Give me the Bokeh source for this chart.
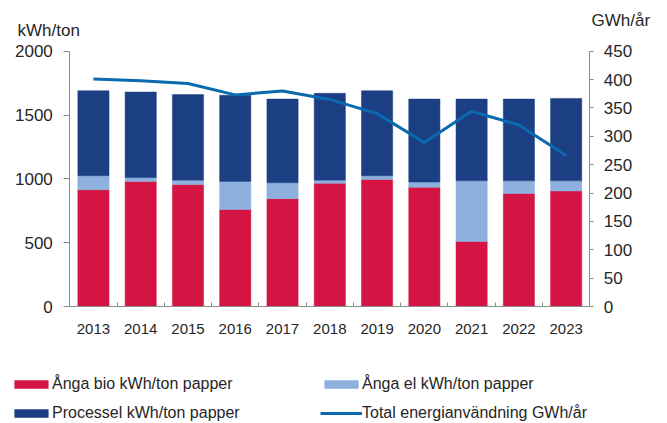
from bokeh.plotting import figure
from bokeh.models import (ColumnDataSource, Range1d, LinearAxis, FixedTicker,
                          Legend, LegendItem, Label)
from bokeh.embed import file_html
from bokeh.resources import INLINE

# ---- data ----
years = ["2013", "2014", "2015", "2016", "2017", "2018", "2019", "2020", "2021", "2022", "2023"]
anga_bio = [915, 980, 955, 760, 845, 965, 995, 935, 510, 885, 905]
anga_el = [110, 30, 35, 220, 125, 25, 30, 40, 475, 100, 80]
processel = [665, 670, 670, 675, 655, 680, 665, 650, 640, 640, 645]
total_gwh = [401, 398, 393, 373, 380, 365, 340, 289, 344, 320, 266]
left_ticks = [0, 500, 1000, 1500, 2000]
right_ticks = [0, 50, 100, 150, 200, 250, 300, 350, 400, 450]
series_names = ["Ånga bio kWh/ton papper", "Ånga el kWh/ton papper",
                "Processel kWh/ton papper", "Total energianvändning GWh/år"]
left_title = "kWh/ton"
right_title = "GWh/år"

# ---- style ----
RED = "#D41443"
LIGHT = "#8EB0DE"
DARK = "#1B3F82"
LINE = "#0A6AB0"
AXIS = "#8A8A8A"
TXT = "#262626"
FONT = "Liberation Sans"

# ---- layout geometry (pixels on the canvas) ----
W, H = 667, 423
PLOT_L, PLOT_R, PLOT_T, PLOT_B = 69.3, 589.3, 50.7, 306.0
ncat = len(years)
left_max = left_ticks[-1]
right_max = right_ticks[-1]
px_cat = (PLOT_R - PLOT_L) / ncat
px_unit = (PLOT_B - PLOT_T) / left_max
x_start = -0.5 - PLOT_L / px_cat
x_end = ncat - 0.5 + (W - PLOT_R) / px_cat
y_start = -(H - PLOT_B) / px_unit
y_end = left_max + PLOT_T / px_unit
k = right_max / left_max


def dx(px):
    return x_start + px / px_cat


def dy(py):
    return y_start + (H - py) / px_unit


pos = list(range(ncat))
src = ColumnDataSource(dict(pos=pos, bio=anga_bio, el=anga_el,
                            processel=processel, total=total_gwh))

p = figure(width=W, height=H, x_range=Range1d(x_start, x_end),
           y_range=Range1d(y_start, y_end), output_backend="svg",
           toolbar_location=None, x_axis_location=None, y_axis_location=None,
           min_border_left=0, min_border_right=0, min_border_top=0,
           min_border_bottom=0)
p.extra_y_ranges = {"gwh": Range1d(y_start * k, y_end * k)}
p.outline_line_color = None
p.xgrid.visible = False
p.ygrid.visible = False
p.background_fill_color = "white"
p.border_fill_color = "white"

bars = p.vbar_stack(["bio", "el", "processel"], x="pos", width=0.66,
                    fill_color=[RED, LIGHT, DARK], line_color=[RED, LIGHT, DARK],
                    line_width=0.5, source=src)
line = p.line(x="pos", y="total", source=src, y_range_name="gwh",
              line_width=3, line_color=LINE)

# left axis
ly = LinearAxis(ticker=FixedTicker(ticks=left_ticks, minor_ticks=[]),
                fixed_location=-0.5, bounds=(0, left_max))
ly.axis_line_color = AXIS
ly.major_tick_line_color = AXIS
ly.major_tick_in = 0
ly.major_tick_out = 6
ly.minor_tick_line_color = None
ly.major_label_standoff = 11
ly.major_label_text_font = FONT
ly.major_label_text_font_size = "17px"
ly.major_label_text_color = TXT
p.add_layout(ly, "left")

# right axis
ry = LinearAxis(y_range_name="gwh", ticker=FixedTicker(ticks=right_ticks, minor_ticks=[]),
                fixed_location=ncat - 0.5, bounds=(0, right_max))
ry.axis_line_color = AXIS
ry.major_tick_line_color = AXIS
ry.major_tick_in = 0
ry.major_tick_out = 4
ry.minor_tick_line_color = None
ry.major_label_standoff = 10
ry.major_label_text_font = FONT
ry.major_label_text_font_size = "17px"
ry.major_label_text_color = TXT
p.add_layout(ry, "right")

# x axis (category labels at bar centres, small inner ticks between categories)
xa = LinearAxis(ticker=FixedTicker(ticks=pos, minor_ticks=[i + 0.5 for i in pos[:-1]]),
                fixed_location=0, bounds=(-0.5, ncat - 0.5))
xa.major_label_overrides = {i: y for i, y in zip(pos, years)}
xa.axis_line_color = AXIS
xa.major_tick_line_color = None
xa.major_tick_in = 0
xa.major_tick_out = 0
xa.minor_tick_line_color = AXIS
xa.minor_tick_in = 4
xa.minor_tick_out = 0
xa.major_label_standoff = 17
xa.major_label_text_font = FONT
xa.major_label_text_font_size = "15px"
xa.major_label_text_color = TXT
p.add_layout(xa, "below")

# axis titles
p.add_layout(Label(x=dx(17), y=dy(30), text=left_title, text_font=FONT,
                   text_font_size="17px", text_color=TXT,
                   text_baseline="alphabetic", text_align="left"))
p.add_layout(Label(x=dx(591), y=dy(20), text=right_title, text_font=FONT,
                   text_font_size="17px", text_color=TXT,
                   text_baseline="alphabetic", text_align="left"))

# legend
items = [LegendItem(label=series_names[0], renderers=[bars[0]]),
         LegendItem(label=series_names[1], renderers=[bars[1]]),
         LegendItem(label=series_names[2], renderers=[bars[2]]),
         LegendItem(label=series_names[3], renderers=[line])]
legend = Legend(items=items, location=(10, 0), orientation="horizontal",
                ncols=2, glyph_width=42, glyph_height=10, label_standoff=0,
                label_width=259, label_height=20, spacing=9, padding=0,
                margin=0, border_line_color=None, background_fill_alpha=0,
                label_text_font=FONT, label_text_font_size="16px",
                label_text_color=TXT)
p.add_layout(legend)

open("out.html", "w").write(file_html(p, INLINE))
